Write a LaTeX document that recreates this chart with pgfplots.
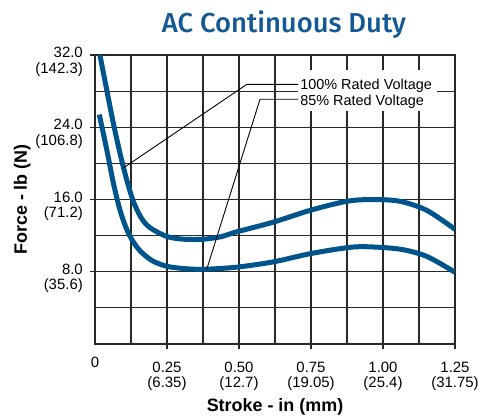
\documentclass[border=0pt]{standalone}
\usepackage{pgfplots}
\pgfplotsset{compat=1.18}
\usepackage{fontspec}
\setmainfont{Liberation Sans}
\newfontfamily\titlefont{Fira Sans Medium}
\definecolor{curve}{RGB}{0,84,140}
\definecolor{titleblue}{RGB}{20,88,148}
\definecolor{gridc}{RGB}{40,40,40}
\newcommand\tlfont{\fontsize{15}{15.5}\selectfont}
\begin{document}
\begin{tikzpicture}
\useasboundingbox (-95bp,-75bp) rectangle (384bp,344bp);
\begin{axis}[
  at={(0,0)}, anchor=south west,
  scale only axis, width=360bp, height=289bp,
  xmin=0, xmax=1.25, ymin=0, ymax=32,
  /pgf/number format/assume math mode=true,
  xtick={0.25,0.5,0.75,1,1.25},
  xticklabels={0.25\\(6.35),0.50\\(12.7),0.75\\(19.05),1.00\\(25.4),1.25\\(31.75)},
  extra x ticks={0}, extra x tick labels={0},
  extra x tick style={major tick length=0pt, grid=none},
  minor xtick={0.125,0.375,0.625,0.875,1.125},
  ytick={8,16,24,32},
  yticklabels={8.0\\(35.6),16.0\\(71.2),24.0\\(106.8),32.0\\(142.3)},
  minor ytick={4,12,20,28},
  grid=both,
  major grid style={gridc, line width=1.2bp},
  minor grid style={gridc, line width=1.2bp},
  axis line style={gridc, line width=1.2bp},
  tick style={gridc, line width=1.2bp},
  tick align=outside,
  major tick length=5bp, minor tick length=0pt,
  xtick pos=bottom, ytick pos=left,
  xticklabel style={font=\tlfont, align=center, inner sep=0pt, anchor=north, yshift=-12.5bp},
  yticklabel style={font=\tlfont, align=right, inner sep=0pt, anchor=north east, xshift=-7bp, yshift=8bp},
]
\addplot[curve, line width=5bp, smooth, tension=0.5] coordinates {
(0.017,32) (0.041,28.1) (0.064,24.4) (0.087,21.1) (0.110,18.2) (0.133,15.8)
(0.160,14.0) (0.19,12.9) (0.25,11.9) (0.31,11.6) (0.376,11.6) (0.44,11.9)
(0.49,12.4) (0.62,13.5) (0.747,14.8) (0.874,15.8) (0.966,16.0) (1.059,15.8)
(1.152,14.8) (1.25,12.7)};
\addplot[curve, line width=5bp, smooth, tension=0.5] coordinates {
(0.015,25.4) (0.041,21.5) (0.064,17.8) (0.087,14.8) (0.110,12.7) (0.133,11.3)
(0.16,10.2) (0.2,9.2) (0.25,8.6) (0.31,8.35) (0.376,8.27) (0.49,8.5)
(0.62,9.1) (0.747,10.0) (0.874,10.66) (0.943,10.77) (1.059,10.5) (1.152,9.7)
(1.25,7.94)};
\fill[white] (0.705,25.8) rectangle (1.1875,30.3);
\draw[black, line width=0.9bp] (0.099,19.5) -- (0.527,28.75) -- (0.706,28.75);
\draw[black, line width=0.9bp] (0.388,8.27) -- (0.573,27.1) -- (0.706,27.1);
\node[anchor=base west, inner sep=0pt, font=\fontsize{14.5}{14.5}\selectfont] at (0.712,28.18) {100\% Rated Voltage};
\node[anchor=base west, inner sep=0pt, font=\fontsize{14.5}{14.5}\selectfont] at (0.712,26.46) {85\% Rated Voltage};
\end{axis}
\node[anchor=base, font=\titlefont\fontsize{27.5}{27.5}\selectfont, text=titleblue, inner sep=0pt] at (189bp,311bp) {AC Continuous Duty};
\node[anchor=base, font=\bfseries\fontsize{18}{18}\selectfont, inner sep=0pt] at (180bp,-67bp) {Stroke - in (mm)};
\node[anchor=base, rotate=90, font=\bfseries\fontsize{18}{18}\selectfont, inner sep=0pt] at (-68bp,144.5bp) {Force - lb (N)};
\end{tikzpicture}
\end{document}
